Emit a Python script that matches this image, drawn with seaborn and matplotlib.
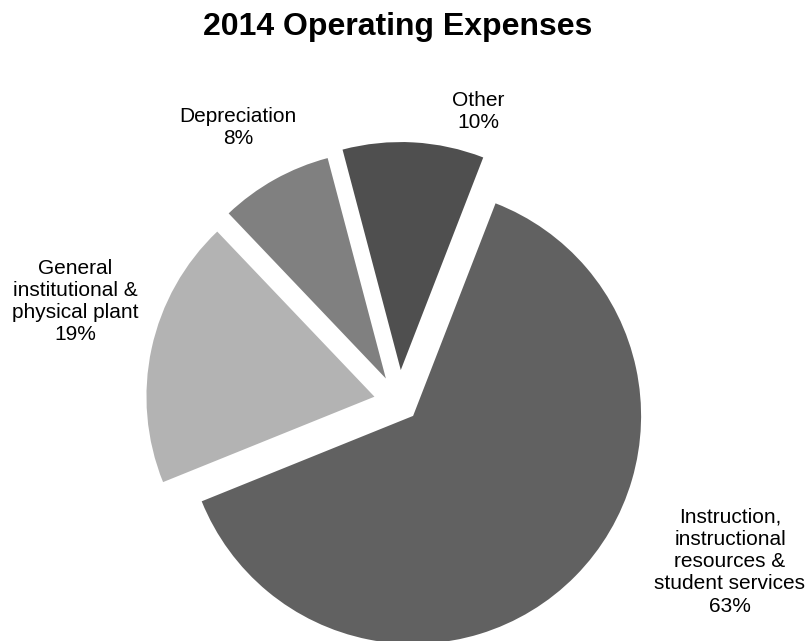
import matplotlib
matplotlib.use("Agg")
import matplotlib.pyplot as plt
import seaborn as sns

# Expense categories and their share of the 2014 total (%)
categories = ["Instruction,\ninstructional\nresources &\nstudent services",
              "Other",
              "Depreciation",
              "General\ninstitutional &\nphysical plant"]
shares = [63, 10, 8, 19]
colors = ["#616161", "#4f4f4f", "#808080", "#b3b3b3"]

sns.set_theme(style="white")
plt.rcParams["font.family"] = ["Liberation Sans", "DejaVu Sans"]

W, H = 811, 641
fig = plt.figure(figsize=(W / 100, H / 100), dpi=100)
ax = fig.add_axes([0, 0, 1, 1])

# pie laid out in pixel-like units (y up); explode offsets are in the same units
center = (399, H - 402)
radius = 228
explode = [19.8, 32, 26.9, 25.1]
ax.pie(shares, colors=colors, startangle=-158, counterclock=True,
       explode=explode, center=center, radius=radius,
       wedgeprops=dict(linewidth=0))

ax.set_xlim(0, W)
ax.set_ylim(0, H)
ax.set_aspect("equal")
ax.axis("off")

# data labels: category name and percentage, placed outside the slices
label_xy = [(730, H - 561.5), (478, H - 111.5), (238, H - 127.5), (75, H - 301.5)]
for name, val, (lx, ly) in zip(categories, shares, label_xy):
    ax.text(lx, ly, f"{name}\n{val}%", ha="center", va="center",
            multialignment="center", fontsize=15, linespacing=1.22,
            color="black")

fig.text(398 / W, 1 - 35 / H, "2014 Operating Expenses", ha="center",
         va="baseline", fontsize=23, fontweight="bold", color="black")

fig.savefig("out.png", dpi=100, facecolor="white")
